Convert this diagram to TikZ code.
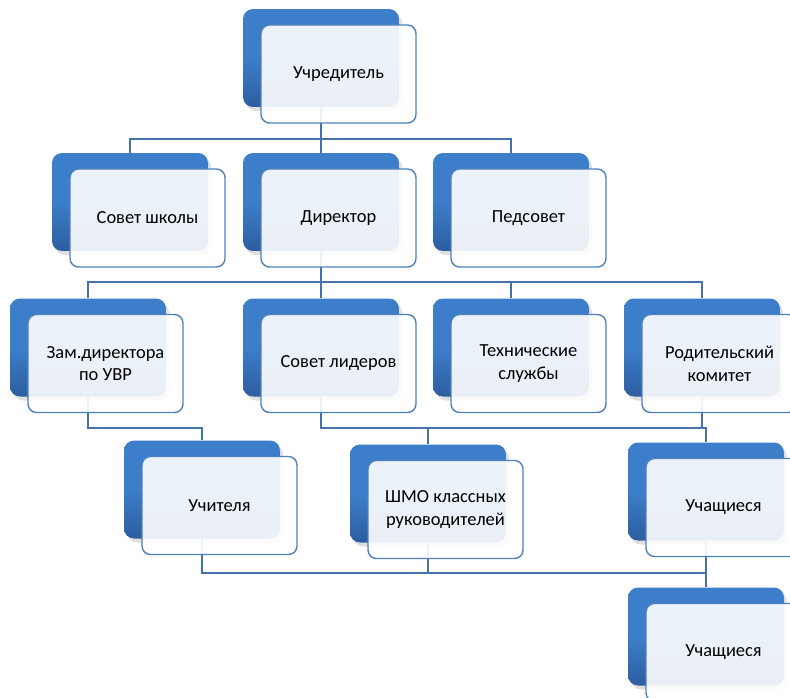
\documentclass[tikz,border=0pt]{standalone}
\usepackage{fontspec}
\setmainfont{Carlito}
\usetikzlibrary{shadows}

\definecolor{boxtop}{RGB}{60,126,202}
\definecolor{boxbot}{RGB}{45,93,160}
\definecolor{rim}{RGB}{79,129,189}
\definecolor{wire}{RGB}{70,114,172}

\begin{document}
\begin{tikzpicture}[x=0.02cm, y=-0.02cm, font=\fontsize{10.5}{13}\selectfont,
	back/.style={rounded corners=0.2cm, minimum width=3.12cm, minimum height=1.96cm, inner sep=0pt,
		top color=boxtop, bottom color=boxbot, middle color=boxtop,
		drop shadow={opacity=0.25, shadow xshift=0.06cm, shadow yshift=-0.08cm}},
	front/.style={draw=rim, line width=0.8pt, rounded corners=0.17cm, fill=white, fill opacity=0.9,
		text opacity=1, minimum width=3.1cm, minimum height=1.96cm, inner sep=0pt, align=center},
	link/.style={draw=wire, line width=1pt}]

	\useasboundingbox (0,0) rectangle (790,697);

	% шины
	\coordinate (bus1) at (0,139);
	\coordinate (bus2) at (0,282);
	\coordinate (bus3) at (0,428);
	\coordinate (bus4) at (0,573);

	% задние плашки
	\node[back] (uchr) at (321, 58) {};
	\node[back] (sovsh) at (130, 202) {};
	\node[back] (dir) at (321, 202) {};
	\node[back] (ped) at (511, 202) {};
	\node[back] (zam) at (88, 347.5) {};
	\node[back] (lid) at (321, 347.5) {};
	\node[back] (tech) at (511, 347.5) {};
	\node[back] (rod) at (702, 347.5) {};
	\node[back] (uchit) at (202, 489.5) {};
	\node[back] (shmo) at (428, 493.5) {};
	\node[back] (uchsh1) at (706, 491.5) {};
	\node[back] (uchsh2) at (706, 636.5) {};

	% связи
	\draw[link] (uchr.south) -- (uchr.south |- bus1);
	\draw[link] (sovsh.north) |- (ped.north |- bus1) -- (ped.north);
	\draw[link] (dir.north) -- (dir.north |- bus1);

	\draw[link] (dir.south) -- (dir.south |- bus2);
	\draw[link] (zam.north) |- (rod.north |- bus2) -- (rod.north);
	\draw[link] (lid.north) -- (lid.north |- bus2);
	\draw[link] (tech.north) -- (tech.north |- bus2);

	\draw[link] (zam.south) |- (uchit.north |- bus3) -- (uchit.north);
	\draw[link] (lid.south) |- (uchsh1.north |- bus3) -- (uchsh1.north);
	\draw[link] (shmo.north) -- (shmo.north |- bus3);
	\draw[link] (rod.south) -- (rod.south |- bus3);

	\draw[link] (uchit.south) |- (uchsh2.north |- bus4) -- (uchsh2.north);
	\draw[link] (shmo.south) -- (shmo.south |- bus4);
	\draw[link] (uchsh1.south) -- (uchsh1.south |- bus4);

	% передние плашки с текстом
	\node[front] (uchr-t) at ([shift={(17.5,16)}]uchr.center) {Учредитель};
	\node[front] (sovsh-t) at ([shift={(17.5,16)}]sovsh.center) {Совет школы};
	\node[front] (dir-t) at ([shift={(17.5,16)}]dir.center) {Директор};
	\node[front] (ped-t) at ([shift={(17.5,16)}]ped.center) {Педсовет};
	\node[front] (zam-t) at ([shift={(17.5,16)}]zam.center) {Зам.директора\\по УВР};
	\node[front] (lid-t) at ([shift={(17.5,16)}]lid.center) {Совет лидеров};
	\node[front] (tech-t) at ([shift={(17.5,16)}]tech.center) {Технические\\службы};
	\node[front] (rod-t) at ([shift={(17.5,16)}]rod.center) {Родительский\\комитет};
	\node[front] (uchit-t) at ([shift={(17.5,16)}]uchit.center) {Учителя};
	\node[front] (shmo-t) at ([shift={(17.5,16)}]shmo.center) {ШМО классных\\руководителей};
	\node[front] (uchsh1-t) at ([shift={(17.5,16)}]uchsh1.center) {Учащиеся};
	\node[front] (uchsh2-t) at ([shift={(17.5,16)}]uchsh2.center) {Учащиеся};

\end{tikzpicture}
\end{document}
